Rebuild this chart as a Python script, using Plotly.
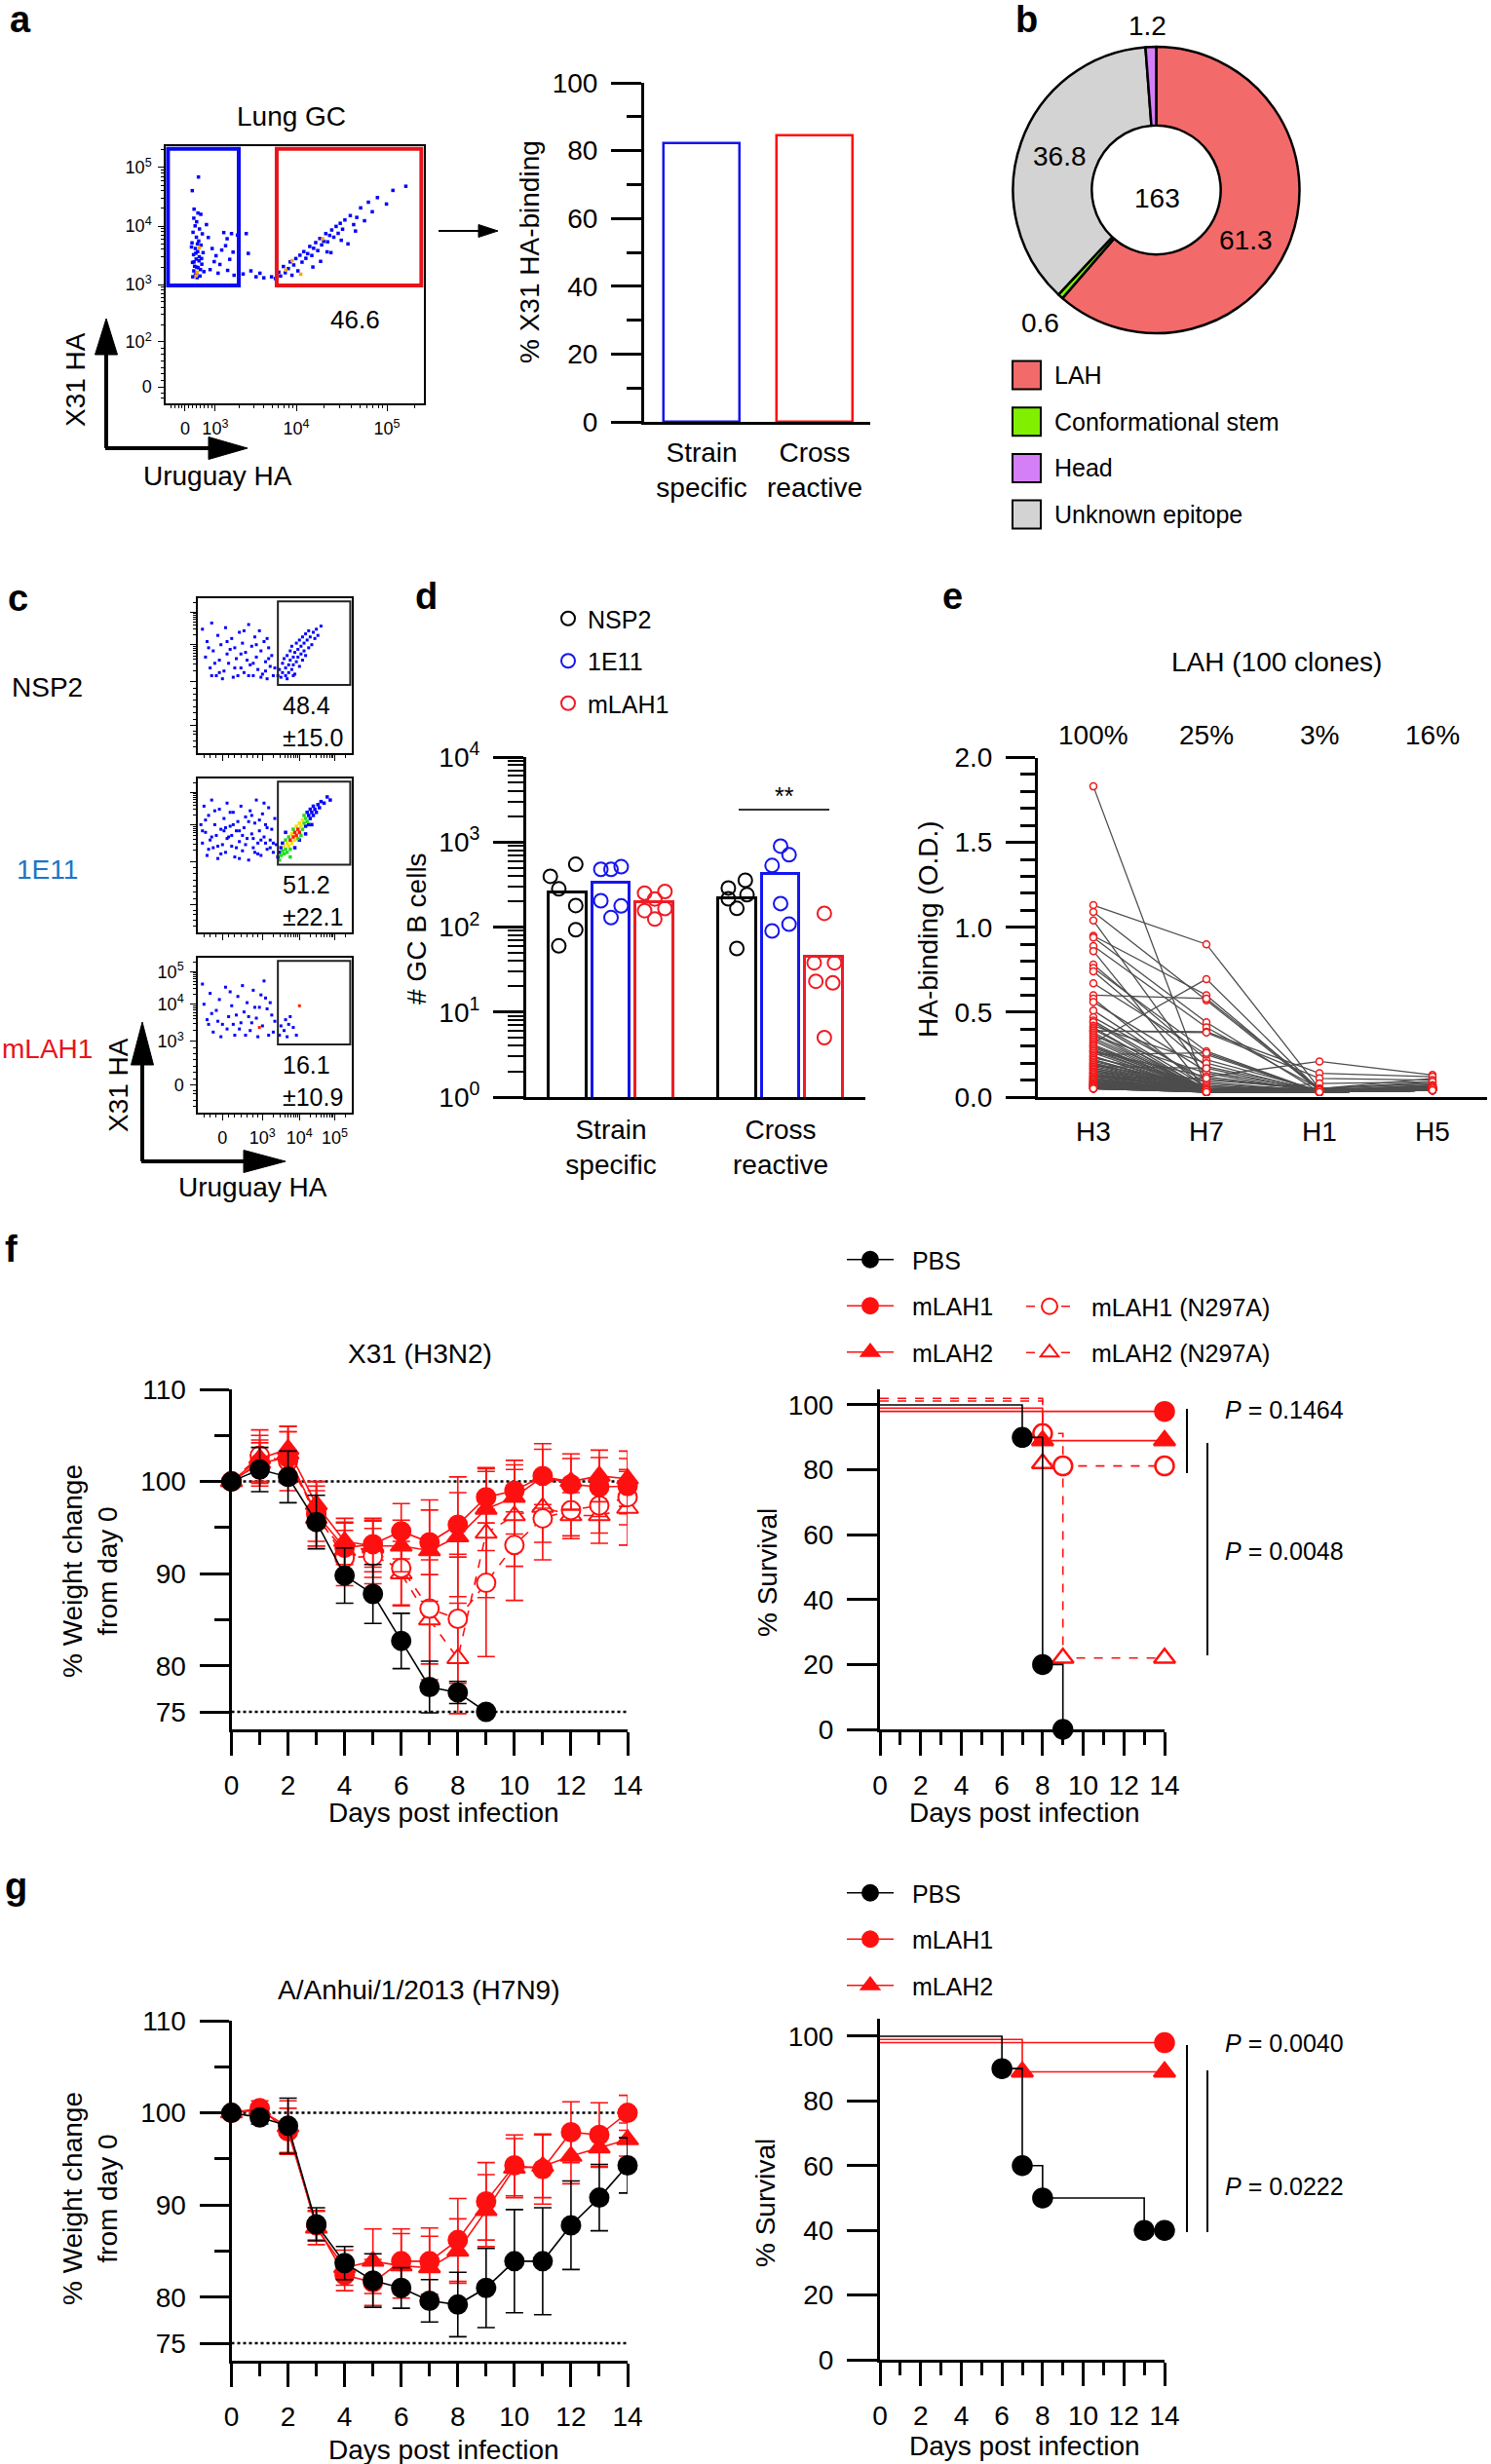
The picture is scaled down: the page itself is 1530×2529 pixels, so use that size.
import math

import plotly.graph_objects as go

W, H = 1530, 2529
FONT = "Liberation Sans, Arial, Helvetica, sans-serif"
BLACK = "#000000"
RED = "#EE1C25"
BLUE = "#1515EE"
LBLUE = "#1D74C6"
GREY = "#4D4D4D"
NB = "\u00a0\u00a0"

# ---------------- panel a ----------------
A_GROUPS = ["Strain<br>specific", "Cross<br>reactive"]
A_PCT = [82.2, 84.5]
A_GATE = "46.6"
# flow events (display units 0-100 on both axes)
FLOW_A = [
    (12.7, 88), (10.3, 82.7), (11.0, 75.5), (12.5, 74.0), (13.6, 73.5), (10.9, 72.0), (12.0, 70.6),
    (11.4, 69.0), (13.1, 67.8), (10.6, 66.5), (14.2, 65.9), (11.9, 64.6), (12.8, 63.1), (10.2, 62.4),
    (13.7, 61.5), (11.5, 60.2), (12.4, 59.0), (14.5, 58.6), (10.8, 57.8), (13.0, 57.0), (11.8, 56.1),
    (12.9, 55.4), (10.4, 54.8), (14.0, 54.1), (11.2, 53.3), (12.6, 52.7), (13.5, 52.0), (10.9, 51.5),
    (12.1, 50.8), (11.5, 50.0), (13.3, 49.5), (12.2, 48.9), (10.5, 49.2), (14.8, 51.2), (11.7, 58.4),
    (12.3, 62.0), (13.9, 56.3), (10.0, 60.8), (11.0, 55.0), (12.0, 53.0),
    (16.5, 64.5), (18.0, 60.2), (19.5, 57.4), (21.0, 54.0), (23.2, 61.3), (24.8, 56.0), (26.1, 58.8),
    (22.5, 66.4), (25.5, 66.0), (17.2, 52.0), (20.3, 50.6), (24.0, 51.7), (26.5, 49.8), (15.8, 69.5),
    (18.8, 55.1), (21.7, 59.6), (23.8, 64.0),
    (27.8, 65.4), (31.2, 66.0), (32.0, 58.3), (30.0, 50.3), (33.0, 51.5), (35.0, 49.2), (36.5, 50.6),
    (38.0, 48.8),
    (41.0, 49.2), (42.5, 48.5), (43.8, 51.0), (44.5, 49.5), (45.6, 53.2), (46.3, 50.8), (47.5, 52.4),
    (48.2, 55.0), (48.9, 49.8), (49.6, 53.8), (50.4, 56.3), (51.2, 51.5), (52.0, 57.6), (52.8, 54.9),
    (53.5, 59.0), (54.3, 56.4), (55.0, 58.2), (55.8, 61.0), (56.6, 57.5), (57.3, 60.3), (58.1, 62.5),
    (58.9, 59.4), (59.7, 64.1), (60.4, 61.6), (61.2, 63.0), (62.0, 66.0), (62.7, 62.8), (63.5, 65.3),
    (64.3, 67.4), (65.1, 64.6), (66.0, 68.8), (66.8, 66.1), (67.6, 70.0), (68.5, 67.7), (69.4, 71.3),
    (70.6, 62.0), (71.5, 73.0), (72.8, 69.5), (74.0, 72.3), (75.5, 76.0), (77.0, 71.0), (78.5, 78.2),
    (80.0, 74.5), (82.0, 80.0), (85.5, 77.5), (88.0, 82.8), (93.0, 84.4), (60.0, 55.2), (64.0, 58.6),
    (68.0, 63.4), (73.5, 67.0), (57.0, 53.0), (62.5, 58.9),
]
FLOW_A_HOT = [(12.2, 51.0), (13.0, 60.5), (11.8, 49.6), (46.5, 51.8), (49.0, 55.5), (60.8, 64.0), (52.3, 50.2)]

# ---------------- panel b ----------------
B_RING_LABELS = ["LAH", "Conformational stem", "Unknown epitope", "Head"]
B_RING_PCT = [61.3, 0.6, 36.8, 1.2]
B_LEGEND = ["LAH", "Conformational stem", "Head", "Unknown epitope"]
B_TOTAL = "163"
B_COLORS = {"LAH": "#F36A6A", "Conformational stem": "#80F000", "Head": "#D57FF7", "Unknown epitope": "#D3D3D3"}

# ---------------- panel c ----------------
C_ROWS = ["NSP2", "1E11", "mLAH1"]
C_GATE = ["48.4<br>±15.0", "51.2<br>±22.1", "16.1<br>±10.9"]
FLOW_NSP2 = [
    (3, 80), (5, 62), (6, 72), (8, 55), (9, 84), (10, 66), (12, 50), (13, 76), (14, 60), (15, 70),
    (17, 53), (18, 81), (19, 64), (20, 58), (22, 74), (23, 49), (24, 68), (25, 61), (27, 78), (28, 55),
    (29, 71), (30, 52), (31, 65), (33, 83), (34, 57), (35, 69), (36, 50), (37, 75), (38, 62), (39, 54),
    (40, 79), (41, 66), (42, 51), (43, 72), (44, 59), (45, 48), (46, 68), (47, 56), (48, 63), (49, 50),
    (11, 58), (16, 48), (21, 67), (26, 50), (32, 60), (38, 70), (44, 53), (7, 68), (36, 58), (41, 49),
    (46, 61), (28, 64), (14, 52), (50, 55), (33, 50), (24, 55), (19, 72), (9, 50), (45, 74), (30, 79),
    (52, 50), (53, 54), (54, 49), (55, 58), (55, 52), (56, 61), (57, 55), (57, 50), (58, 63), (59, 57),
    (59, 52), (60, 66), (60, 60), (61, 54), (61, 69), (62, 62), (62, 57), (63, 65), (63, 51), (64, 71),
    (64, 59), (65, 67), (65, 62), (66, 73), (66, 56), (67, 69), (67, 64), (68, 75), (68, 60), (69, 71),
    (69, 66), (70, 77), (70, 63), (71, 73), (72, 68), (72, 79), (73, 75), (74, 70), (75, 78), (76, 74),
    (77, 80), (78, 76), (80, 82), (58, 48), (62, 50),
]
FLOW_1E11 = [
    (2, 70), (3, 58), (4, 82), (5, 65), (6, 50), (7, 76), (8, 60), (9, 86), (10, 55), (11, 70),
    (12, 63), (13, 48), (14, 80), (15, 67), (16, 57), (17, 74), (18, 52), (19, 84), (20, 62), (21, 69),
    (22, 56), (23, 78), (24, 49), (25, 66), (26, 72), (27, 59), (28, 82), (29, 53), (30, 68), (31, 75),
    (32, 61), (33, 47), (34, 79), (35, 64), (36, 55), (37, 71), (38, 86), (39, 58), (40, 66), (41, 50),
    (42, 77), (43, 62), (44, 70), (45, 54), (46, 81), (47, 60), (48, 67), (49, 52), (50, 74), (51, 57),
    (5, 73), (9, 62), (13, 56), (17, 66), (21, 78), (25, 55), (29, 63), (33, 72), (37, 52), (41, 60),
    (45, 68), (49, 58), (7, 54), (11, 79), (15, 51), (19, 61), (23, 70), (27, 48), (31, 57), (35, 76),
    (39, 51), (43, 84), (47, 55), (3, 66), (27, 66), (22, 63), (18, 68), (40, 73), (44, 58), (36, 61),
]
FLOW_1E11_GATE = [
    (52, 49), (53, 52), (53, 47), (54, 55), (54, 50), (55, 53), (55, 58), (56, 51), (56, 56), (57, 60),
    (57, 54), (58, 58), (58, 52), (59, 62), (59, 56), (60, 60), (60, 54), (61, 64), (61, 58), (62, 62),
    (62, 67), (63, 60), (63, 65), (64, 69), (64, 63), (65, 67), (65, 61), (66, 71), (66, 65), (67, 69),
    (67, 63), (68, 73), (68, 67), (69, 71), (69, 76), (70, 69), (70, 74), (71, 78), (71, 72), (72, 76),
    (72, 70), (73, 80), (73, 74), (74, 78), (75, 76), (75, 82), (76, 80), (77, 78), (78, 83), (79, 81),
    (80, 85), (82, 84), (84, 88), (86, 86), (57, 65), (60, 49), (63, 55), (66, 60), (70, 64), (74, 70),
]
DENS_1E11_GATE = [
    0, 0, 1, 0, 1, 1, 0, 1, 2, 1, 1, 2, 1, 1, 2, 3, 1, 2, 2, 3,
    1, 2, 3, 2, 3, 3, 1, 2, 3, 2, 1, 2, 1, 1, 1, 0, 1, 0, 1, 0,
    0, 0, 0, 0, 0, 0, 0, 0, 0, 0, 0, 0, 0, 0, 0, 1, 0, 0, 0, 0,
]
FLOW_MLAH1 = [
    (3, 83), (4, 70), (6, 60), (8, 77), (10, 52), (12, 66), (14, 73), (16, 57), (18, 81), (20, 62),
    (22, 69), (24, 50), (26, 75), (28, 58), (30, 65), (32, 71), (34, 53), (36, 79), (38, 61), (40, 68),
    (42, 56), (44, 74), (46, 50), (48, 63), (50, 59), (9, 64), (15, 49), (21, 78), (27, 54), (33, 62),
    (39, 49), (45, 67), (49, 52), (7, 57), (25, 63), (35, 58), (43, 85), (47, 71), (29, 82), (13, 59),
    (41, 76), (19, 54), (31, 50), (37, 68), (23, 57),
    (53, 50), (54, 56), (56, 53), (57, 60), (58, 49), (59, 57), (60, 62), (62, 55), (64, 50),
]
FLOW_MLAH1_HOT = [(66, 69), (40, 55)]

# ---------------- panel d ----------------
D_GROUPS = ["Strain<br>specific", "Cross<br>reactive"]
NSP2_MEAN = [257, 220]
E11_MEAN = [330, 417]
MLAH1_MEAN = [195, 45]
NSP2_STRAIN = [548, 395, 281, 179, 93, 60]
NSP2_CROSS = [355, 288, 240, 215, 166, 56]
E11_STRAIN = [513, 478, 478, 204, 177, 129]
E11_CROSS = [895, 708, 530, 189, 108, 90]
MLAH1_STRAIN = [262, 251, 214, 165, 156, 124]
MLAH1_CROSS = [145, 38, 38, 23, 22, 5]

# ---------------- panel e ----------------
E_HA = ["H3", "H7", "H1", "H5"]
E_PCT = ["100%", "25%", "3%", "16%"]
E_H3 = [
    1.83, 1.13, 1.09, 1.04, 0.95, 0.94, 0.89, 0.86, 0.78, 0.76,
    0.74, 0.67, 0.60, 0.58, 0.56, 0.51, 0.47, 0.45, 0.44, 0.42,
    0.41, 0.40, 0.39, 0.39, 0.38, 0.37, 0.36, 0.35, 0.34, 0.33,
    0.32, 0.31, 0.30, 0.30, 0.29, 0.28, 0.27, 0.27, 0.26, 0.25,
    0.24, 0.24, 0.23, 0.22, 0.22, 0.21, 0.20, 0.20, 0.19, 0.19,
    0.18, 0.18, 0.17, 0.17, 0.16, 0.16, 0.15, 0.15, 0.14, 0.14,
    0.14, 0.13, 0.13, 0.12, 0.12, 0.12, 0.11, 0.11, 0.11, 0.10,
    0.10, 0.10, 0.10, 0.09, 0.09, 0.09, 0.09, 0.08, 0.08, 0.08,
    0.08, 0.08, 0.07, 0.07, 0.07, 0.07, 0.07, 0.07, 0.06, 0.06,
    0.06, 0.06, 0.06, 0.06, 0.05, 0.05, 0.05, 0.05, 0.05, 0.05,
]
E_H7 = [
    0.05, 0.90, 0.57, 0.12, 0.60, 0.44, 0.41, 0.04, 0.22, 0.27,
    0.18, 0.25, 0.58, 0.05, 0.15, 0.08, 0.10, 0.06, 0.04, 0.20,
    0.03, 0.05, 0.385, 0.38, 0.04, 0.03, 0.14, 0.05, 0.04, 0.03,
    0.695, 0.04, 0.03, 0.05, 0.04, 0.03, 0.12, 0.04, 0.03, 0.26,
    0.04, 0.03, 0.09, 0.04, 0.03, 0.05, 0.03, 0.04, 0.07, 0.03,
    0.04, 0.17, 0.05, 0.03, 0.04, 0.03, 0.06, 0.03, 0.04, 0.03,
    0.03, 0.04, 0.03, 0.05, 0.03, 0.11, 0.03, 0.03, 0.04, 0.03,
    0.03, 0.04, 0.03, 0.03, 0.04, 0.03, 0.03, 0.04, 0.03, 0.03,
    0.04, 0.03, 0.03, 0.04, 0.03, 0.03, 0.04, 0.03, 0.03, 0.04,
    0.03, 0.03, 0.04, 0.03, 0.03, 0.04, 0.03, 0.03, 0.04, 0.03,
]
E_H1 = [
    0.03, 0.05, 0.04, 0.21, 0.04, 0.03, 0.05, 0.03, 0.04, 0.03,
    0.04, 0.03, 0.05, 0.03, 0.04, 0.03, 0.05, 0.03, 0.04, 0.03,
    0.03, 0.04, 0.14, 0.11, 0.03, 0.04, 0.03, 0.05, 0.03, 0.04,
    0.04, 0.03, 0.04, 0.03, 0.08, 0.03, 0.04, 0.03, 0.04, 0.03,
    0.03, 0.04, 0.03, 0.04, 0.03, 0.05, 0.03, 0.04, 0.03, 0.04,
    0.04, 0.03, 0.04, 0.03, 0.04, 0.03, 0.05, 0.03, 0.04, 0.03,
    0.03, 0.04, 0.03, 0.04, 0.03, 0.04, 0.03, 0.04, 0.03, 0.04,
    0.04, 0.03, 0.04, 0.03, 0.04, 0.03, 0.04, 0.03, 0.04, 0.03,
    0.03, 0.04, 0.03, 0.04, 0.03, 0.04, 0.03, 0.04, 0.03, 0.04,
    0.04, 0.03, 0.04, 0.03, 0.04, 0.03, 0.04, 0.03, 0.04, 0.03,
]
E_H5 = [
    0.05, 0.08, 0.06, 0.13, 0.07, 0.05, 0.09, 0.04, 0.06, 0.05,
    0.07, 0.05, 0.11, 0.04, 0.06, 0.05, 0.08, 0.04, 0.05, 0.06,
    0.04, 0.06, 0.12, 0.10, 0.05, 0.04, 0.06, 0.05, 0.04, 0.07,
    0.05, 0.04, 0.06, 0.05, 0.09, 0.04, 0.05, 0.06, 0.04, 0.05,
    0.04, 0.05, 0.04, 0.06, 0.05, 0.04, 0.07, 0.05, 0.04, 0.05,
    0.05, 0.04, 0.05, 0.04, 0.06, 0.05, 0.04, 0.05, 0.04, 0.06,
    0.04, 0.05, 0.04, 0.05, 0.04, 0.06, 0.05, 0.04, 0.05, 0.04,
    0.05, 0.04, 0.05, 0.04, 0.05, 0.04, 0.06, 0.04, 0.05, 0.04,
    0.04, 0.05, 0.04, 0.05, 0.04, 0.05, 0.04, 0.05, 0.04, 0.05,
    0.05, 0.04, 0.05, 0.04, 0.05, 0.04, 0.05, 0.04, 0.05, 0.04,
]

# ---------------- panel f (X31) ----------------
DAYS = list(range(15))
F_PBS = [100, 101.3, 100.5, 95.6, 89.8, 87.8, 82.7, 77.7, 77.1, 75.0]
F_PBS_SD = [0, 2.4, 2.8, 2.9, 3.0, 3.2, 3.0, 2.8, 1.2, 0]
F_MLAH1 = [100, 102.0, 102.6, 96.5, 92.8, 93.2, 94.6, 93.4, 95.3, 98.3, 99.0, 100.6, 99.7, 99.4, 99.5]
F_MLAH1_SD = [0.5, 2.2, 2.8, 3.0, 2.8, 2.5, 3.0, 3.5, 3.5, 2.8, 2.3, 3.5, 2.8, 3.2, 3.0]
F_MLAH2 = [100, 102.5, 103.5, 97.5, 93.5, 93.0, 93.0, 92.5, 94.0, 97.0, 98.3, 100.5, 100.0, 100.6, 100.3]
F_MLAH2_SD = [0.5, 2.5, 2.5, 2.5, 2.5, 2.8, 2.8, 5.5, 6.5, 4.5, 4.0, 3.0, 3.0, 2.8, 3.0]
F_MLAH1N = [100, 102.8, 102.2, 96.5, 91.7, 91.9, 90.6, 86.2, 85.1, 89.0, 93.1, 96.0, 96.9, 97.4, 98.3]
F_MLAH1N_SD = [0.5, 2.8, 3.2, 3.5, 3.0, 3.0, 4.0, 6.0, 7.0, 8.0, 6.0, 4.5, 2.8, 3.0, 3.0]
F_MLAH2N = [100, 102.0, 103.0, 96.0, 92.5, 92.8, 90.0, 85.0, 80.8, 94.4, 96.3, 97.2, 96.3, 96.3, 97.1]
F_MLAH2N_SD = [0.5, 2.5, 3.0, 3.0, 3.0, 3.2, 3.5, 6.5, 6.0, 7.0, 5.5, 3.8, 2.5, 3.0, 4.0]

FS_PBS = ([0, 7, 8, 9], [100, 90, 20, 0])
FS_MLAH1 = ([0, 14], [100, 100])
FS_MLAH2 = ([0, 8, 14], [100, 90, 90])
FS_MLAH1N = ([0, 8, 9, 14], [100, 90, 80, 80])
FS_MLAH2N = ([0, 8, 9, 14], [100, 80, 20, 20])
F_P = ["<i>P</i> = 0.1464", "<i>P</i> = 0.0048"]

# ---------------- panel g (H7N9) ----------------
G_PBS = [100, 99.5, 98.6, 87.9, 83.7, 81.8, 81.0, 79.6, 79.2, 81.0, 83.9, 83.9, 87.8, 90.8, 94.3]
G_PBS_SD = [0.3, 0.7, 3.0, 1.8, 1.8, 2.9, 2.2, 2.3, 3.5, 4.3, 5.6, 5.8, 4.8, 3.6, 3.0]
G_MLAH1 = [100, 100.5, 98.0, 87.8, 82.4, 81.6, 83.9, 83.9, 86.2, 90.4, 94.3, 93.9, 97.9, 97.6, 100.0]
G_MLAH1_SD = [0.4, 0.8, 2.5, 1.6, 1.7, 2.5, 3.5, 3.6, 4.5, 4.2, 3.3, 3.8, 3.3, 3.5, 1.9]
G_MLAH2 = [100, 100.3, 98.5, 87.5, 83.2, 83.9, 83.4, 83.2, 85.0, 89.4, 94.0, 94.2, 95.3, 96.2, 97.1]
G_MLAH2_SD = [0.4, 0.6, 2.8, 1.8, 1.9, 3.5, 3.5, 3.4, 3.5, 3.9, 3.2, 3.4, 3.0, 2.0, 1.8]

GS_PBS = ([0, 6, 7, 8, 13, 14], [100, 90, 60, 50, 40, 40])
GS_MLAH1 = ([0, 14], [100, 100])
GS_MLAH2 = ([0, 7, 14], [100, 90, 90])
G_P = ["<i>P</i> = 0.0040", "<i>P</i> = 0.0222"]


# ---------------- helpers ----------------
def dx(x0, x1):
    return [x0 / W, x1 / W]


def dy(y0, y1):
    return [1 - y1 / H, 1 - y0 / H]


def text(t, x, y, size=28, color=BLACK, xanchor="center", angle=0):
    return dict(text=t, x=x / W, y=1 - y / H, xref="paper", yref="paper", showarrow=False,
                xanchor=xanchor, yanchor="middle", textangle=angle,
                font=dict(size=size, color=color, family=FONT))


def pline(x0, y0, x1, y1, width=2, color=BLACK):
    return dict(type="line", xref="paper", yref="paper", x0=x0 / W, y0=1 - y0 / H,
                x1=x1 / W, y1=1 - y1 / H, line=dict(color=color, width=width))


def ptri(pts, color=BLACK):
    path = "M " + " L ".join(f"{x / W},{1 - y / H}" for x, y in pts) + " Z"
    return dict(type="path", xref="paper", yref="paper", path=path, fillcolor=color,
                line=dict(color=color, width=1))


def log_minor(p0, p1):
    return [round(p0 + (p1 - p0) * math.log10(k), 2) for k in range(2, 10)]


def prism(**kw):
    base = dict(showline=True, linewidth=3, linecolor=BLACK, ticks="outside", tickwidth=3,
                tickcolor=BLACK, showgrid=False, zeroline=False,
                tickfont=dict(size=28, color=BLACK, family=FONT))
    base.update(kw)
    return base


def flow_axis(dom, majors, labels, minors, show):
    return dict(domain=dom, range=[0, 100], showline=True, mirror=True, linewidth=1.5,
                linecolor=BLACK, ticks="outside", ticklen=6, tickwidth=1.2, tickcolor=BLACK,
                tickvals=majors, ticktext=labels, showticklabels=show, showgrid=False,
                zeroline=False, ticklabelstandoff=3,
                tickfont=dict(size=18, color=BLACK, family=FONT),
                minor=dict(tickmode="array", tickvals=minors, ticks="outside", ticklen=3.5,
                           tickwidth=1, tickcolor=BLACK))


fig = go.Figure()
layout_axes = {}
shapes = []
anns = []

SUP = lambda n: f"10<sup>{n}</sup>"

# ---------------- panel a : flow ----------------
fx = [p[0] for p in FLOW_A]
fy = [p[1] for p in FLOW_A]
fig.add_trace(go.Scatter(x=fx, y=fy, mode="markers", xaxis="x", yaxis="y", showlegend=False,
                         marker=dict(symbol="square", size=3.5, color="#0000FF", line_width=0)))
fig.add_trace(go.Scatter(x=[p[0] for p in FLOW_A_HOT], y=[p[1] for p in FLOW_A_HOT], mode="markers",
                         xaxis="x", yaxis="y", showlegend=False,
                         marker=dict(symbol="square", size=3.5, color="#FFA500", line_width=0)))
layout_axes["xaxis"] = flow_axis(dx(170, 435), [7.5, 19.2, 50.6, 85.7], ["0", SUP(3), SUP(4), SUP(5)],
                                 [2, 3.5, 5, 6.2, 9, 10.5, 12, 13.5, 15, 16.5, 18] + log_minor(19.2, 50.6)
                                 + log_minor(50.6, 85.7) + [96.3], True)
layout_axes["xaxis"]["anchor"] = "y"
layout_axes["yaxis"] = flow_axis(dy(150, 414), [6.4, 23.9, 46.2, 68.9, 91.7],
                                 ["0", SUP(2), SUP(3), SUP(4), SUP(5)],
                                 [2, 4, 9, 11.5, 14, 16.5, 19, 21.5] + log_minor(23.9, 46.2)
                                 + log_minor(46.2, 68.9) + log_minor(68.9, 91.7) + [98.6], True)
layout_axes["yaxis"]["anchor"] = "x"
shapes.append(dict(type="rect", xref="x", yref="y", x0=0.9, x1=28.3, y0=45.8, y1=99.0,
                   line=dict(color="#0A0AF0", width=4)))
shapes.append(dict(type="rect", xref="x", yref="y", x0=43.0, x1=99.0, y0=45.8, y1=99.0,
                   line=dict(color="#E8141B", width=4)))
anns.append(text("Lung GC", 299, 119))
anns.append(text(A_GATE, 364, 328, size=26))
anns.append(text("X31 HA", 78, 390, angle=-90))
anns.append(text("Uruguay HA", 223, 489))
# axis arrows
shapes.append(pline(109, 460, 109, 362, width=4))
shapes.append(ptri([(97.5, 364), (120.5, 364), (109, 327)]))
shapes.append(pline(108, 460, 216, 460, width=4))
shapes.append(ptri([(214, 448.5), (214, 471.5), (254, 460)]))
shapes.append(pline(450, 237, 493, 237, width=2))
shapes.append(ptri([(491, 230.5), (491, 243.5), (511, 237)]))
anns.append(text("<b>a</b>", 8, 20, size=38, xanchor="left"))

# ---------------- panel a : bars ----------------
fig.add_trace(go.Bar(x=[0, 1], y=A_PCT, width=0.67, xaxis="x2", yaxis="y2", showlegend=False,
                     marker=dict(color="white", line=dict(color=["#1515EE", "#FF1010"], width=2.5))))
layout_axes["xaxis2"] = prism(domain=dx(661, 893), range=[-0.509, 1.491], anchor="y2", ticks="",
                              tickvals=[0, 1], ticktext=A_GROUPS, ticklabelstandoff=4)
layout_axes["yaxis2"] = prism(domain=dy(85, 433), range=[0, 100], anchor="x2", tickvals=list(range(0, 101, 20)),
                              ticklen=31, ticklabelstandoff=8,
                              minor=dict(dtick=10, ticklen=15, tickwidth=3, tickcolor=BLACK, ticks="outside"))
anns.append(text("% X31 HA-binding", 543, 259, angle=-90))

# ---------------- panel b ----------------
fig.add_trace(go.Pie(values=B_RING_PCT, labels=B_RING_LABELS, hole=0.45, sort=False, direction="clockwise",
                     rotation=0, textinfo="none", showlegend=False, hoverinfo="label+value",
                     marker=dict(colors=[B_COLORS[k] for k in B_RING_LABELS], line=dict(color=BLACK, width=2.5)),
                     domain=dict(x=dx(1039, 1334), y=dy(48, 342))))
for t, x, y in [("1.2", 1177, 27), ("36.8", 1087, 161), (B_TOTAL, 1187, 203), ("61.3", 1278, 246),
                ("0.6", 1067, 332)]:
    anns.append(text(t, x, y))
for i, lab in enumerate(B_LEGEND):
    yc = 385 + i * 47.7
    shapes.append(dict(type="rect", xref="paper", yref="paper", x0=1039 / W, x1=1068 / W,
                       y0=1 - (yc + 14.5) / H, y1=1 - (yc - 14.5) / H, fillcolor=B_COLORS[lab],
                       line=dict(color=BLACK, width=2)))
    anns.append(text(lab, 1080, yc, size=25, xanchor="left"))
anns.append(text("<b>b</b>", 1040, 20, size=38, xanchor="left"))

# ---------------- panel c ----------------
C_DOMS = [dy(614, 773), dy(799, 957), dy(983, 1142)]
C_COLORS = [BLACK, LBLUE, "#E8141B"]
C_LABEL_Y = [705, 893, 1076]
CX_MAJ, CY_MAJ = [16, 42, 66, 89], [18, 46, 70, 91]
CX_MIN = [4, 8, 12, 20, 24, 28, 32, 36, 39] + log_minor(42, 66) + log_minor(66, 89) + [96]
CY_MIN = [4, 8, 12, 14, 22, 26, 30, 34, 38, 42] + log_minor(46, 70) + log_minor(70, 91) + [97.3]
C_FLOWS = [FLOW_NSP2, FLOW_1E11, FLOW_MLAH1]
DENS_COLORS = ["#0000FF", "#22DD22", "#F0E000", "#FF2000"]
for i in range(3):
    n = 3 + i
    xa, ya = f"x{n}", f"y{n}"
    pts = C_FLOWS[i]
    fig.add_trace(go.Scatter(x=[p[0] for p in pts], y=[p[1] for p in pts], mode="markers", xaxis=xa,
                             yaxis=ya, showlegend=False,
                             marker=dict(symbol="square", size=3, color="#0000FF", line_width=0)))
    if i == 1:
        for lvl in range(4):
            sel = [p for p, d in zip(FLOW_1E11_GATE, DENS_1E11_GATE) if d == lvl]
            fig.add_trace(go.Scatter(x=[p[0] for p in sel], y=[p[1] for p in sel], mode="markers",
                                     xaxis=xa, yaxis=ya, showlegend=False,
                                     marker=dict(symbol="square", size=3.5, color=DENS_COLORS[lvl],
                                                 line_width=0)))
    if i == 2:
        fig.add_trace(go.Scatter(x=[p[0] for p in FLOW_MLAH1_HOT], y=[p[1] for p in FLOW_MLAH1_HOT],
                                 mode="markers", xaxis=xa, yaxis=ya, showlegend=False,
                                 marker=dict(symbol="square", size=3, color="#FF2000", line_width=0)))
    show = i == 2
    layout_axes[f"xaxis{n}"] = flow_axis(dx(203, 361), CX_MAJ, ["0", SUP(3), SUP(4), SUP(5)], CX_MIN, show)
    layout_axes[f"xaxis{n}"]["anchor"] = ya
    layout_axes[f"yaxis{n}"] = flow_axis(C_DOMS[i], CY_MAJ, ["0", SUP(3), SUP(4), SUP(5)], CY_MIN, show)
    layout_axes[f"yaxis{n}"]["anchor"] = xa
    shapes.append(dict(type="rect", xref=xa, yref=ya, x0=52, x1=99, y0=44, y1=98,
                       line=dict(color="#222222", width=2)))
    anns.append(text(C_ROWS[i], 48, C_LABEL_Y[i], color=C_COLORS[i]))
    anns.append(dict(text=C_GATE[i], x=54, y=41, xref=xa, yref=ya, showarrow=False, xanchor="left",
                     yanchor="top", align="left", font=dict(size=25, color=BLACK, family=FONT)))
anns.append(text("X31 HA", 121, 1114, angle=-90))
anns.append(text("Uruguay HA", 259, 1218))
shapes.append(pline(146, 1192, 146, 1091, width=4))
shapes.append(ptri([(134.5, 1093), (157.5, 1093), (146, 1049)]))
shapes.append(pline(145, 1192, 252, 1192, width=4))
shapes.append(ptri([(250, 1180.5), (250, 1203.5), (293, 1192)]))
anns.append(text("<b>c</b>", 6, 614, size=38, xanchor="left"))

# ---------------- panel d ----------------
D_SERIES = [
    ("NSP2", BLACK, NSP2_MEAN, [NSP2_STRAIN, NSP2_CROSS],
     [[0.05, -0.1, -0.05, 0.05, 0.05, -0.05], [0.05, -0.05, 0.06, -0.05, 0.0, 0.0]]),
    ("1E11", "#1515EE", E11_MEAN, [E11_STRAIN, E11_CROSS],
     [[0.06, -0.06, 0.0, -0.06, 0.06, 0.0], [0.0, 0.05, -0.05, 0.0, 0.05, -0.05]]),
    ("mLAH1", "#EE1C25", MLAH1_MEAN, [MLAH1_STRAIN, MLAH1_CROSS],
     [[0.06, -0.06, 0.0, 0.06, -0.06, 0.0], [0.0, -0.06, 0.06, -0.05, 0.05, 0.0]]),
]
D_OFF = [-0.258, 0.0, 0.258]
for k, (name, col, means, pts, jit) in enumerate(D_SERIES):
    fig.add_trace(go.Bar(x=[g + D_OFF[k] for g in range(2)], y=means, width=0.2235, xaxis="x6", yaxis="y6",
                         showlegend=False, marker=dict(color="white", line=dict(color=col, width=3))))
for k, (name, col, means, pts, jit) in enumerate(D_SERIES):
    xs, ys = [], []
    for g in range(2):
        for v, j in zip(pts[g], jit[g]):
            xs.append(g + D_OFF[k] + j)
            ys.append(v)
    fig.add_trace(go.Scatter(x=xs, y=ys, mode="markers", name=name, xaxis="x6", yaxis="y6", legend="legend",
                             legendgroup=name, cliponaxis=False,
                             marker=dict(symbol="circle-open", size=14, color=col, line=dict(width=2))))
D_MIN = [m * 10 ** e for e in range(4) for m in range(2, 10)]
layout_axes["xaxis6"] = prism(domain=dx(540, 888), range=[-0.5, 1.5], anchor="y6", ticks="",
                              tickvals=[0, 1], ticktext=D_GROUPS, ticklabelstandoff=6)
layout_axes["yaxis6"] = prism(domain=dy(777, 1126), type="log", range=[0, 4], anchor="x6",
                              tickvals=[1, 10, 100, 1000, 10000], ticktext=[SUP(i) for i in range(5)],
                              ticklen=31, ticklabelstandoff=8,
                              minor=dict(tickmode="array", tickvals=D_MIN, ticklen=16, tickwidth=2,
                                         tickcolor=BLACK, ticks="outside"))
anns.append(text("# GC B cells", 427, 953, angle=-90))
shapes.append(pline(758, 831, 851, 831, width=2, color="#333333"))
anns.append(text("**", 805, 817, size=25))
anns.append(text("<b>d</b>", 424, 612, size=38, xanchor="left"))

# ---------------- panel e ----------------
lx, ly = [], []
for clone in zip(E_H3, E_H7, E_H1, E_H5):
    lx += [0, 1, 2, 3, None]
    ly += list(clone) + [None]
fig.add_trace(go.Scatter(x=lx, y=ly, mode="lines", xaxis="x7", yaxis="y7", showlegend=False,
                         line=dict(color=GREY, width=1.3)))
mx, my = [], []
for i, col in enumerate([E_H3, E_H7, E_H1, E_H5]):
    mx += [i] * len(col)
    my += col
fig.add_trace(go.Scatter(x=mx, y=my, mode="markers", xaxis="x7", yaxis="y7", showlegend=False, cliponaxis=False,
                         marker=dict(symbol="circle", size=7, color="white", line=dict(color="#F01818", width=1.5))))
layout_axes["xaxis7"] = prism(domain=dx(1065, 1526), range=[-0.491, 3.483], anchor="y7", ticks="",
                              tickvals=[0, 1, 2, 3], ticktext=E_HA, ticklabelstandoff=8)
layout_axes["yaxis7"] = prism(domain=dy(777.5, 1126), range=[0, 2], anchor="x7", tickvals=[0, 0.5, 1, 1.5, 2],
                              ticktext=["0.0", "0.5", "1.0", "1.5", "2.0"], ticklen=30, ticklabelstandoff=8,
                              minor=dict(dtick=0.1, ticklen=15, tickwidth=3, tickcolor=BLACK, ticks="outside"))
for i, p in enumerate(E_PCT):
    anns.append(dict(text=p, x=i, y=1 - 754 / H, xref="x7", yref="paper", showarrow=False,
                     xanchor="center", yanchor="middle", font=dict(size=28, color=BLACK, family=FONT)))
anns.append(text("LAH (100 clones)", 1310, 679))
anns.append(text("HA-binding (O.D.)", 952, 954, angle=-90))
anns.append(text("<b>e</b>", 965, 612, size=38, xanchor="left"))


# ---------------- weight + survival panels ----------------
def weight_trace(mean, sd, name, color, symbol, filled, dash, xa, ya, legend, rank):
    return go.Scatter(x=DAYS[:len(mean)], y=mean, name=NB + name, mode="lines+markers", xaxis=xa, yaxis=ya,
                      legend=legend, legendrank=rank, legendgroup=name + legend, cliponaxis=False,
                      error_y=dict(type="data", array=sd, color=color, thickness=1.6, width=9),
                      line=dict(color=color, width=1.6, dash=dash),
                      marker=dict(symbol=symbol, size=19, color=color if filled else "white",
                                  line=dict(color=color, width=2)))


def surv_traces(curve, offset, color, symbol, filled, dash, xa, ya):
    days, vals = curve
    ys = [v + offset for v in vals]
    return [
        go.Scatter(x=days, y=ys, mode="lines", line=dict(color=color, width=1.6, dash=dash, shape="hv"),
                   xaxis=xa, yaxis=ya, showlegend=False, cliponaxis=False),
        go.Scatter(x=days[1:], y=ys[1:], mode="markers", xaxis=xa, yaxis=ya, showlegend=False, cliponaxis=False,
                   marker=dict(symbol=symbol, size=19, color=color if filled else "white",
                               line=dict(color=color, width=2.5))),
    ]


FRED = "#FF1010"
F_SERIES = [
    (F_MLAH2N, F_MLAH2N_SD, "mLAH2 (N297A)", FRED, "triangle-up", False, "dash", "legend3", 5, FS_MLAH2N, 2.0),
    (F_MLAH1N, F_MLAH1N_SD, "mLAH1 (N297A)", FRED, "circle", False, "dash", "legend3", 4, FS_MLAH1N, 1.2),
    (F_MLAH2, F_MLAH2_SD, "mLAH2", FRED, "triangle-up", True, "solid", "legend2", 3, FS_MLAH2, -1.0),
    (F_MLAH1, F_MLAH1_SD, "mLAH1", FRED, "circle", True, "solid", "legend2", 2, FS_MLAH1, -2.0),
    (F_PBS, F_PBS_SD, "PBS", BLACK, "circle", True, "solid", "legend2", 1, FS_PBS, 0.0),
]
for mean, sd, name, col, sym, filled, dash, leg, rank, surv, off in F_SERIES:
    fig.add_trace(weight_trace(mean, sd, name, col, sym, filled, dash, "x8", "y8", leg, rank))
    for tr in surv_traces(surv, off, col, sym, filled, dash, "x9", "y9"):
        fig.add_trace(tr)

G_SERIES = [
    (G_MLAH2, G_MLAH2_SD, "mLAH2", FRED, "triangle-up", True, 3, GS_MLAH2, -1.0),
    (G_MLAH1, G_MLAH1_SD, "mLAH1", FRED, "circle", True, 2, GS_MLAH1, -2.0),
    (G_PBS, G_PBS_SD, "PBS", BLACK, "circle", True, 1, GS_PBS, 0.0),
]
for mean, sd, name, col, sym, filled, rank, surv, off in G_SERIES:
    fig.add_trace(weight_trace(mean, sd, name, col, sym, filled, "solid", "x10", "y10", "legend4", rank))
    for tr in surv_traces(surv, off, col, sym, filled, "solid", "x11", "y11"):
        fig.add_trace(tr)

DAY_AXIS = dict(range=[0, 14], tickvals=list(range(0, 15, 2)), ticklen=24, ticklabelstandoff=6,
                minor=dict(dtick=1, ticklen=13, tickwidth=3, tickcolor=BLACK, ticks="outside"))
for n, ydom, yrange, kind in [(8, dy(1426, 1775), [73.1, 110], "w"), (9, dy(1426, 1775), [0, 104.8], "s"),
                              (10, dy(2074, 2423), [73.1, 110], "w"), (11, dy(2072, 2422), [0, 105.4], "s")]:
    xdom = dx(237.5, 644) if kind == "w" else dx(903, 1195)
    layout_axes[f"xaxis{n}"] = prism(domain=xdom, anchor=f"y{n}", **DAY_AXIS)
    if kind == "w":
        layout_axes[f"yaxis{n}"] = prism(domain=ydom, range=yrange, anchor=f"x{n}", tickvals=[75, 80, 90, 100, 110],
                                         ticklen=30, ticklabelstandoff=8,
                                         minor=dict(tickmode="array", tickvals=[85, 95, 105], ticklen=15,
                                                    tickwidth=3, tickcolor=BLACK, ticks="outside"))
        for ref in (100, 75):
            shapes.append(dict(type="line", xref=f"x{n}", yref=f"y{n}", x0=0, x1=14, y0=ref, y1=ref,
                               layer="below", line=dict(color=BLACK, width=2.5, dash="dot")))
    else:
        layout_axes[f"yaxis{n}"] = prism(domain=ydom, range=yrange, anchor=f"x{n}",
                                         tickvals=list(range(0, 101, 20)), ticklen=31, ticklabelstandoff=8)

anns.append(text("<b>f</b>", 3, 1282, size=38, xanchor="left"))
anns.append(text("X31 (H3N2)", 431, 1389))
anns.append(text("% Weight change<br>from day 0", 92, 1613, angle=-90))
anns.append(text("Days post infection", 455, 1860))
anns.append(text("% Survival", 787, 1614, angle=-90))
anns.append(text("Days post infection", 1051, 1860))
anns.append(text(F_P[0], 1255, 1447, size=25, xanchor="left"))
anns.append(text(F_P[1], 1255, 1592, size=25, xanchor="left"))
shapes.append(pline(1218, 1446, 1218, 1512))
shapes.append(pline(1239, 1481, 1239, 1699))

anns.append(text("<b>g</b>", 3, 1936, size=38, xanchor="left"))
anns.append(text("A/Anhui/1/2013 (H7N9)", 430, 2042))
anns.append(text("% Weight change<br>from day 0", 92, 2257, angle=-90))
anns.append(text("Days post infection", 455, 2514))
anns.append(text("% Survival", 785, 2261, angle=-90))
anns.append(text("Days post infection", 1051, 2510))
anns.append(text(G_P[0], 1255, 2097, size=25, xanchor="left"))
anns.append(text(G_P[1], 1255, 2244, size=25, xanchor="left"))
shapes.append(pline(1218, 2099, 1218, 2291))
shapes.append(pline(1239, 2125, 1239, 2291))


def legend_box(x, y, gap, itemwidth):
    return dict(x=x / W, y=1 - y / H, xanchor="left", yanchor="top", bgcolor="rgba(0,0,0,0)",
                font=dict(size=25, color=BLACK, family=FONT), tracegroupgap=gap, itemsizing="trace",
                itemwidth=itemwidth)


fig.update_layout(
    width=W, height=H, margin=dict(l=0, r=0, t=0, b=0, pad=0, autoexpand=False),
    paper_bgcolor="white", plot_bgcolor="white",
    font=dict(family=FONT, size=28, color=BLACK),
    bargap=0, barmode="overlay",
    shapes=shapes, annotations=anns,
    legend=legend_box(563, 612, 8, 30),
    legend2=legend_box(864, 1270, 12, 48),
    legend3=legend_box(1048, 1318, 12, 48),
    legend4=legend_box(864, 1920, 12, 48),
    **layout_axes,
)

fig.write_html("out.html", config={"displayModeBar": False},
               post_script="document.body.style.margin='0';document.body.style.overflow='hidden';")
